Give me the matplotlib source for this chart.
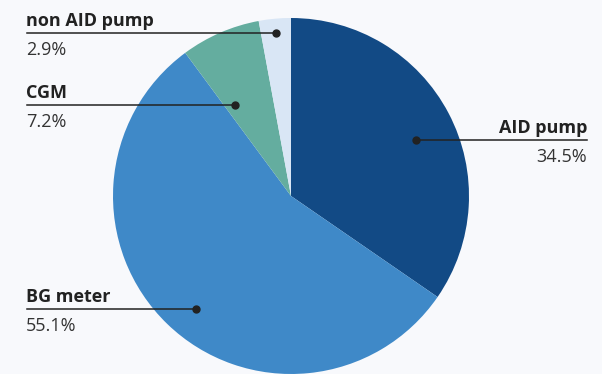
import numpy as np
import matplotlib
matplotlib.use("Agg")
import matplotlib.pyplot as plt

# Device use shares (%), clockwise from 12 o'clock
labels = ["AID pump", "BG meter", "CGM", "non AID pump"]
shares = [34.5, 55.1, 7.2, 2.9]
colors = ["#124a85", "#3f89c8", "#64ad9f", "#d9e6f5"]

W, H = 602, 374
CX, CY, R = 291, 196, 178  # pie centre / radius in pixels (y from top)

# label layout: (position inside wedge 0..1, radius fraction, text side)
label_layout = {
    "AID pump": (0.47, 0.77, "right"),
    "BG meter": (0.52, 0.826, "left"),
    "CGM": (0.81, 0.60, "left"),
    "non AID pump": (0.50, 0.92, "left"),
}
LEFT_X, RIGHT_X = 26, 587


def main():
    plt.rcParams["font.family"] = ["Open Sans", "DejaVu Sans"]
    fig = plt.figure(figsize=(W / 100, H / 100), dpi=100)
    fig.patch.set_facecolor("#f8f9fc")
    ax = fig.add_axes([0, 0, 1, 1])

    wedges, _ = ax.pie(shares, colors=colors, startangle=90, counterclock=False,
                       center=(CX, H - CY), radius=R, frame=True,
                       wedgeprops=dict(linewidth=0))
    ax.set_xlim(0, W)
    ax.set_ylim(0, H)
    ax.set_aspect("equal")
    ax.axis("off")

    for wedge, name, pct in zip(wedges, labels, shares):
        f, rf, side = label_layout[name]
        ang = np.deg2rad(wedge.theta1 + f * (wedge.theta2 - wedge.theta1))
        dx = CX + rf * R * np.cos(ang)
        dy = (H - CY) + rf * R * np.sin(ang)
        ax.plot(dx, dy, "o", color="#222222", markersize=5, zorder=5)
        if side == "left":
            ax.plot([LEFT_X + 1, dx], [dy, dy], color="#222222", lw=1.1, zorder=4)
            tx, ha = LEFT_X, "left"
        else:
            ax.plot([dx, RIGHT_X], [dy, dy], color="#222222", lw=1.1, zorder=4)
            tx, ha = RIGHT_X, "right"
        ax.text(tx, dy + 7, name, ha=ha, va="baseline", fontsize=13,
                fontweight="bold", color="#222222")
        ax.text(tx, dy - 8, f"{pct}%", ha=ha, va="top", fontsize=13,
                fontweight="normal", color="#333333")

    fig.savefig("out.png", dpi=100, facecolor=fig.get_facecolor())


if __name__ == "__main__":
    main()
